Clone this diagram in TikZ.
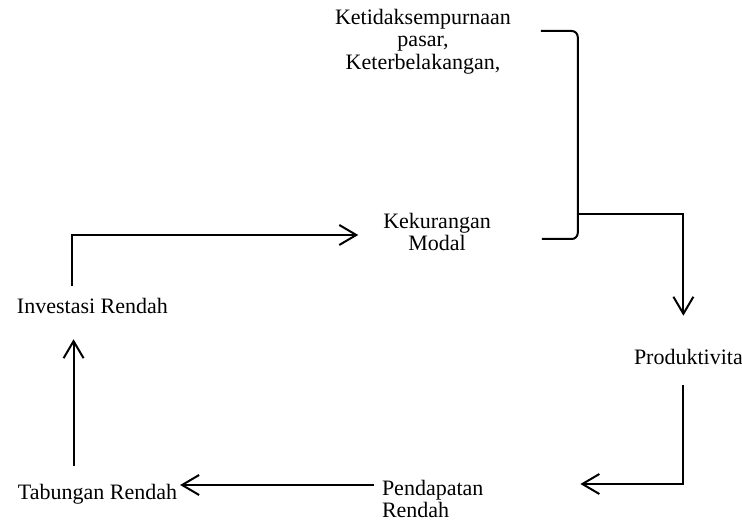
\documentclass[tikz,border=0pt]{standalone}
\usepackage{fontspec}
\setmainfont{Liberation Serif}
\usetikzlibrary{arrows.meta,calc}

\begin{document}
\begin{tikzpicture}[x=0.5pt,y=-0.5pt,
	every node/.style={inner sep=0pt,font=\fontsize{11}{11.25}\selectfont},
	arr/.style={-{Straight Barb[length=8.5pt,width=10pt]}},
	line width=1pt]
	\useasboundingbox (0,0) rectangle (742,522);

	\node[align=center,anchor=north] (ket) at (423,8) {Ketidaksempurnaan\\pasar,\\Keterbelakangan,};
	\node[align=center,anchor=north] (kek) at (437,212) {Kekurangan\\Modal};
	\node[anchor=base west] (inv) at (16,314) {Investasi Rendah};
	\node[anchor=base west] (tab) at (17,499) {Tabungan Rendah};
	\node[align=left,anchor=north west] (pend) at (381,479) {Pendapatan\\Rendah};
	\node[anchor=base west] (prod) at (633,365) {Produktivita};

	\draw[rounded corners=3pt] ($(ket.north east)+(29,23)$) -| ($(kek.east)+(86,7)$) coordinate (b2) -- ++(-36,0);
	\coordinate (join) at ($(b2)+(0,-25)$);
	\draw[arr] (join) -| ([xshift=-2.5pt,yshift=16.5pt]prod.north);

	\draw[arr] ([xshift=-10pt,yshift=6pt]inv.north) |- ([xshift=-12pt,yshift=-1.5pt]kek.west);
	\draw[arr] ([xshift=-2.5pt,yshift=-9.5pt]prod.south) |- ($(pend.north east)+(96,5)$);

	\coordinate (p0) at ($(pend.north west)+(-7,6)$);
	\draw[arr] (p0) -- ([xshift=1pt]p0 -| tab.east);

	\coordinate (t0) at ([xshift=-12pt,yshift=8.5pt]tab.north);
	\coordinate (i0) at ($(inv.south)+(0,24)$);
	\draw[arr] (t0) -- (t0 |- i0);
\end{tikzpicture}
\end{document}
